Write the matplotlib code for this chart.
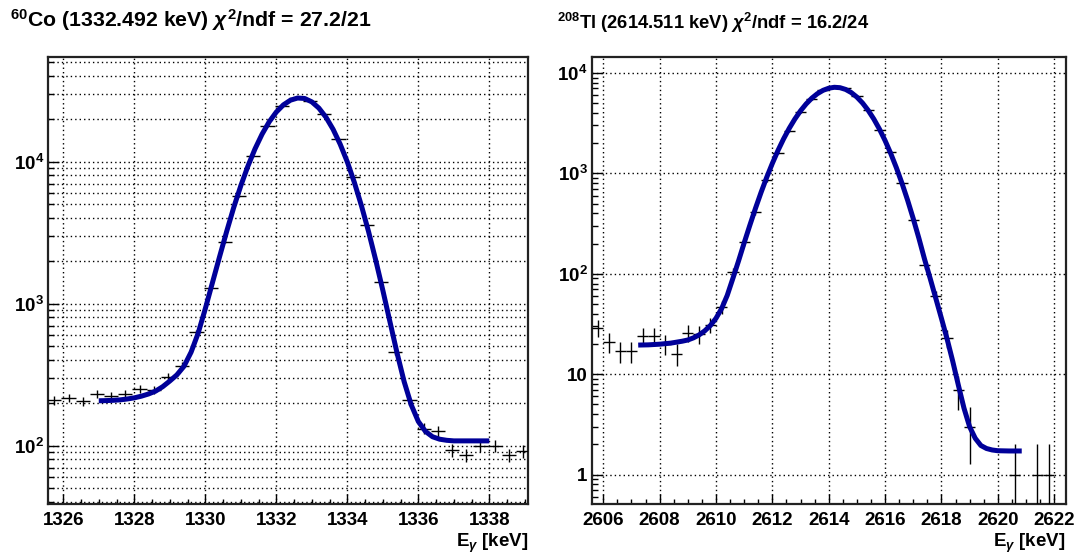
import numpy as np
import matplotlib
matplotlib.use('Agg')
import matplotlib.pyplot as plt
from matplotlib.ticker import FixedLocator, LogLocator, FuncFormatter, NullFormatter

plt.rcParams['font.family'] = ['Liberation Sans', 'DejaVu Sans']
plt.rcParams['font.weight'] = 'bold'
plt.rcParams['mathtext.fontset'] = 'custom'
plt.rcParams['mathtext.rm'] = 'Liberation Sans:bold'
plt.rcParams['mathtext.bf'] = 'Liberation Sans:bold'
plt.rcParams['mathtext.it'] = 'Liberation Sans:italic'

# 60Co 1332 keV line: spectrum bins (0.4 keV) and fitted curve
co_e = [1325.75, 1326.15, 1326.55, 1326.95, 1327.35, 1327.75, 1328.15, 1328.55, 1328.95, 1329.35,
        1329.75, 1330.15, 1330.55, 1330.95, 1331.35, 1331.75, 1332.15, 1332.55, 1332.95, 1333.35,
        1333.75, 1334.15, 1334.55, 1334.95, 1335.35, 1335.75, 1336.15, 1336.55, 1336.95, 1337.35,
        1337.75, 1338.15, 1338.55, 1338.95]
co_counts = [209, 217, 205, 232, 222, 232, 252, 248, 306, 366,
             627, 1295, 2730, 5750, 10960, 17800, 24500, 28300, 26600, 21700,
             14400, 7820, 3600, 1410, 454, 209, 132, 127, 93, 86,
             100, 100, 86, 92]
co_fit_e = [1327.0, 1327.2, 1327.4, 1327.6, 1327.8, 1328.0, 1328.2, 1328.4, 1328.6, 1328.8,
            1329.0, 1329.2, 1329.4, 1329.6, 1329.8, 1330.0, 1330.2, 1330.4, 1330.6, 1330.8,
            1331.0, 1331.2, 1331.4, 1331.6, 1331.8, 1332.0, 1332.2, 1332.4, 1332.6, 1332.8,
            1333.0, 1333.2, 1333.4, 1333.6, 1333.8, 1334.0, 1334.2, 1334.4, 1334.6, 1334.8,
            1335.0, 1335.2, 1335.4, 1335.6, 1335.8, 1336.0, 1336.2, 1336.4, 1336.6, 1336.8,
            1337.0, 1337.2, 1337.4, 1337.6, 1337.8, 1338.0]
co_fit = [207, 207.5, 208.5, 210, 213, 217, 223, 231, 242, 260,
          285, 315, 362, 455, 620, 920, 1400, 2130, 3210, 4745,
          6760, 9290, 12290, 15630, 19080, 22350, 25120, 27110, 28070, 27860,
          26380, 23840, 20550, 16900, 13270, 9970, 7130, 4880, 3210, 2030,
          1245, 748, 451, 283, 194, 148, 126, 115.5, 111, 109,
          108, 108, 108, 108, 108, 108]

# 208Tl 2614 keV line
tl_e = [2605.8, 2606.2, 2606.6, 2607.0, 2607.4, 2607.8, 2608.2, 2608.6, 2609.0, 2609.4,
        2609.8, 2610.2, 2610.6, 2611.0, 2611.4, 2611.8, 2612.2, 2612.6, 2613.0, 2613.4,
        2613.8, 2614.2, 2614.6, 2615.0, 2615.4, 2615.8, 2616.2, 2616.6, 2617.0, 2617.4,
        2617.8, 2618.2, 2618.6, 2619.0, 2620.6, 2621.4, 2621.8]
tl_counts = [29, 21, 17, 17, 24, 24, 20, 16, 26, 25,
             31, 47, 103, 205, 408, 858, 1580, 2640, 4080, 5480,
             6800, 7300, 7000, 5840, 4300, 2720, 1620, 795, 340, 123,
             60, 23, 7, 3, 1, 1, 1]
tl_fit_e = [2607.24, 2607.6, 2608.0, 2608.4, 2608.8, 2609.0, 2609.2, 2609.4, 2609.6, 2609.8,
            2610.0, 2610.2, 2610.4, 2610.6, 2610.8, 2611.0, 2611.2, 2611.4, 2611.6, 2611.8,
            2612.0, 2612.2, 2612.4, 2612.6, 2612.8, 2613.0, 2613.2, 2613.4, 2613.6, 2613.8,
            2614.0, 2614.2, 2614.4, 2614.6, 2614.8, 2615.0, 2615.2, 2615.4, 2615.6, 2615.8,
            2616.0, 2616.2, 2616.4, 2616.6, 2616.8, 2617.0, 2617.2, 2617.4, 2617.6, 2617.8,
            2618.0, 2618.2, 2618.4, 2618.6, 2618.8, 2619.0, 2619.2, 2619.4, 2619.6, 2619.8,
            2620.0, 2620.4, 2620.85]
tl_fit = [19.5, 19.6, 19.9, 20.4, 21.3, 21.9, 23.0, 24.6, 27.0, 30.5,
          36, 45, 61, 90, 134, 203, 303, 447, 646, 912,
          1256, 1687, 2206, 2808, 3477, 4191, 4913, 5602, 6216, 6707,
          7039, 7191, 7126, 6847, 6372, 5745, 5017, 4243, 3477, 2760,
          2121, 1580, 1140, 797, 540, 354, 226, 140, 90, 57,
          36, 22.5, 13.5, 7.8, 4.6, 3.0, 2.3, 1.95, 1.82, 1.76,
          1.73, 1.72, 1.72]

co_ticks = [1326, 1328, 1330, 1332, 1334, 1336, 1338]
tl_ticks = [2606, 2608, 2610, 2612, 2614, 2616, 2618, 2620, 2622]
bin_width = 0.4
fit_color = '#000099'


def ylabel_root(v, pos):
    if v <= 0:
        return ''
    p = int(round(np.log10(v)))
    if p == 0:
        return '1'
    if p == 1:
        return '10'
    return r'$10^{%d}$' % p


def draw_panel(ax, e, counts, fit_e, fit, xlim, ylim, xticks, minor_ygrid):
    e = np.array(e)
    counts = np.array(counts, dtype=float)
    err = np.sqrt(counts)
    low = np.minimum(err, counts * 0.999)
    ax.errorbar(e, counts, xerr=bin_width / 2, yerr=[low, err], fmt='none',
                ecolor='black', elinewidth=1.0, capsize=0, zorder=3)
    ax.plot(fit_e, fit, color=fit_color, lw=3.6, solid_capstyle='butt', zorder=4)

    ax.set_yscale('log', nonpositive='clip')
    ax.set_xlim(*xlim)
    ax.set_ylim(*ylim)

    ax.xaxis.set_major_locator(FixedLocator(xticks))
    ax.xaxis.set_minor_locator(FixedLocator(np.arange(xticks[0] - 2, xticks[-1] + 2.5, 0.5)))
    ax.yaxis.set_major_locator(LogLocator(base=10, numticks=20))
    ax.yaxis.set_minor_locator(LogLocator(base=10, subs=np.arange(2, 10), numticks=20))
    ax.yaxis.set_major_formatter(FuncFormatter(ylabel_root))
    ax.yaxis.set_minor_formatter(NullFormatter())

    ax.tick_params(which='both', direction='in', top=False, right=False,
                   labelsize=13.5, width=1.0, color='black')
    ax.tick_params(axis='x', which='major', length=7.5, pad=6)
    ax.tick_params(axis='x', which='minor', length=3.8)
    ax.tick_params(axis='y', which='major', length=8, pad=3)
    ax.tick_params(axis='y', which='minor', length=4.5)

    grid_style = dict(linestyle=(0, (1, 2.2)), color='black', lw=1.0)
    ax.grid(True, which='major', axis='both', **grid_style)
    if minor_ygrid:
        ax.grid(True, which='minor', axis='y', **grid_style)
    ax.set_axisbelow(True)

    for s in ax.spines.values():
        s.set_linewidth(1.6)
        s.set_color('#222222')

    ax.text(1.0, -0.062, r'E$_{\gamma}$ [keV]', transform=ax.transAxes,
            ha='right', va='top', fontsize=13.5, fontweight='bold')


fig = plt.figure(figsize=(10.82, 5.57), dpi=100)
ax1 = fig.add_axes([48 / 1082, 53 / 557, 480 / 1082, 447 / 557])
ax2 = fig.add_axes([591.7 / 1082, 53 / 557, 474 / 1082, 447 / 557])

draw_panel(ax1, co_e, co_counts, co_fit_e, co_fit, (1325.57, 1339.09), (38.8, 54600), co_ticks, True)
draw_panel(ax2, tl_e, tl_counts, tl_fit_e, tl_fit, (2605.59, 2622.41), (0.51, 14400), tl_ticks, False)

fig.text(10 / 1082, 1 - 27 / 557, r'$^{60}$Co (1332.492 keV) $\chi^{2}$/ndf = 27.2/21',
         fontsize=15.3, fontweight='bold', ha='left', va='baseline')
fig.text(557 / 1082, 1 - 29 / 557, r'$^{208}$Tl (2614.511 keV) $\chi^{2}$/ndf = 16.2/24',
         fontsize=13.2, fontweight='bold', ha='left', va='baseline')

fig.savefig('out.png', dpi=100, facecolor='white')
